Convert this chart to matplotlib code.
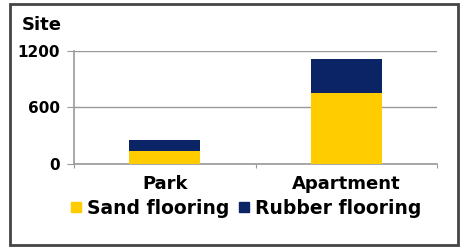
import matplotlib.pyplot as plt
from matplotlib.patches import Rectangle, Patch

sites = ['Park', 'Apartment']
sand = [135, 750]
rubber = [115, 360]
yticks = [0, 600, 1200]

sand_color = '#FFCC00'
rubber_color = '#0A2466'

plt.rcParams['font.family'] = 'DejaVu Sans'
plt.rcParams['font.weight'] = 'bold'

fig = plt.figure(figsize=(4.61, 2.47), dpi=100)
ax = fig.add_axes([74 / 461, 1 - 164 / 247, (437 - 74) / 461, (164 - 50.7) / 247])

x = range(len(sites))
ax.bar(x, sand, width=0.39, color=sand_color, zorder=3)
ax.bar(x, rubber, width=0.39, bottom=sand, color=rubber_color, zorder=3)

ax.set_xlim(-0.5, 1.5)
ax.set_ylim(0, 1200)
ax.set_yticks(yticks)
ax.set_yticklabels([str(v) for v in yticks], fontsize=11, fontweight='bold')
ax.yaxis.grid(True, color='#999999', linewidth=1)
ax.set_axisbelow(True)

ax.set_xticks([-0.5, 0.5, 1.5])
ax.set_xticklabels(['', '', ''])
ax.set_xticks(list(x), minor=True)
ax.set_xticklabels(sites, minor=True, fontsize=13, fontweight='bold')
ax.tick_params(axis='x', which='minor', length=0, pad=8)
ax.tick_params(axis='x', which='major', length=3, color='#999999')
ax.tick_params(axis='y', length=5, color='#999999', pad=5)

for s in ['top', 'right']:
    ax.spines[s].set_visible(False)
for s in ['left', 'bottom']:
    ax.spines[s].set_color('#999999')
    ax.spines[s].set_linewidth(1.2)

fig.text(22 / 461, 1 - 25 / 247, 'Site', fontsize=13, fontweight='bold', va='center', ha='left')

handles = [Patch(color=sand_color), Patch(color=rubber_color)]
fig.legend(handles, ['Sand flooring', 'Rubber flooring'], loc='center',
           bbox_to_anchor=(246 / 461, 1 - 208 / 247), ncol=2, frameon=False,
           prop={'size': 13.5, 'weight': 'bold'}, handlelength=0.55, handleheight=0.4,
           handletextpad=0.3, columnspacing=0.5)

fig.patches.append(Rectangle((10 / 461, 2 / 247), 448 / 461, 241 / 247,
                             transform=fig.transFigure, fill=False,
                             edgecolor='#444444', linewidth=2))

fig.savefig('out.png', dpi=100)
